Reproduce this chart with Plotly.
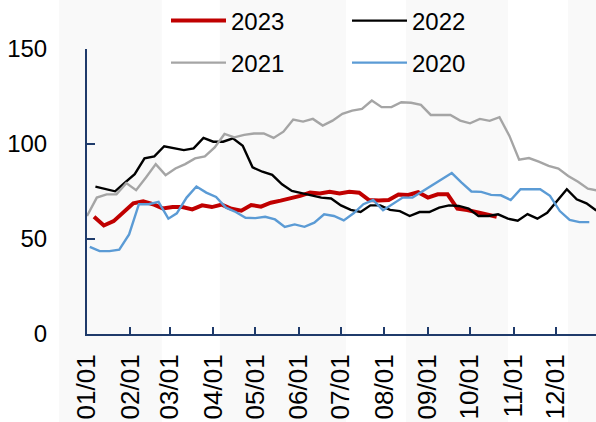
import pandas as pd
import plotly.graph_objects as go

# ---- data (weekly) ----
start_2023 = "2023-01-06"
vals_2023 = [61.7, 57.1, 59.4, 63.8, 68.8, 69.8, 68.3, 66.1, 66.8, 66.8, 65.6, 67.7, 66.8, 68.1,
             65.9, 64.9, 67.9, 67.0, 69.1, 70.2, 71.3, 72.7, 74.4, 73.9, 74.8, 73.9, 74.8, 74.4,
             70.5, 70.2, 70.5, 73.4, 73.2, 74.6, 71.8, 73.5, 73.5, 66.0, 65.3, 64.2, 63.1, 61.7]

start_2022 = "2022-01-07"
vals_2022 = [77.6, 76.5, 75.1, 79.7, 84.1, 92.4, 93.5, 98.8, 97.7, 96.8, 97.7, 103.2, 101.2, 101.2,
             103.0, 99.1, 87.7, 85.4, 83.8, 78.8, 75.3, 74.1, 73.0, 71.8, 71.3, 67.7, 65.3, 64.2,
             67.7, 67.7, 65.3, 64.7, 62.1, 64.2, 64.2, 66.5, 67.7, 67.4, 66.0, 62.1, 62.1, 63.0,
             60.7, 59.6, 63.1, 60.7, 63.8, 70.0, 76.2, 70.9, 68.8, 65.0]

start_2021 = "2021-01-01"
vals_2021 = [62.1, 71.8, 73.5, 73.5, 79.4, 75.7, 82.4, 89.4, 83.6, 87.1, 89.4, 92.4, 93.5, 98.2,
             105.3, 103.5, 104.8, 105.5, 105.6, 103.2, 106.5, 112.9, 111.8, 113.2, 109.7, 112.3,
             115.9, 117.6, 118.5, 122.9, 119.4, 119.4, 122.0, 121.7, 120.6, 115.3, 115.3, 115.3,
             112.3, 110.9, 113.2, 112.2, 114.1, 104.4, 91.7, 92.6, 90.7, 88.5, 87.1, 83.2, 80.1,
             76.5, 75.5]

start_2020 = "2020-01-03"
vals_2020 = [45.9, 43.6, 43.6, 44.4, 52.4, 68.3, 68.3, 69.5, 60.7, 63.5, 71.8, 77.6, 74.4, 72.1,
             66.5, 64.2, 61.2, 61.0, 61.7, 60.3, 56.4, 57.7, 56.4, 58.6, 63.0, 62.1, 59.8, 63.5,
             68.3, 70.5, 65.1, 68.3, 71.8, 71.8, 75.0, 78.3, 81.5, 84.7, 79.7, 75.0, 74.8, 73.2,
             73.0, 70.5, 76.2, 76.2, 76.2, 72.7, 64.7, 60.0, 58.9, 58.9]

series_names = ["2023", "2022", "2021", "2020"]
series_starts = [start_2023, start_2022, start_2021, start_2020]
series_vals = [vals_2023, vals_2022, vals_2021, vals_2020]
series_colors = ["#C00000", "#000000", "#A5A5A5", "#5B9BD5"]
series_widths = [4, 2.4, 2.4, 2.4]
series_legend = ["legend", "legend", "legend2", "legend2"]

DISPLAY_YEAR = 2023
X_RANGE = ["2023-01-01", "2023-12-29 19:00"]
Y_RANGE = [0, 150]
Y_TICKS = [0, 50, 100, 150]

AXIS_COLOR = "#1F3B6B"
FONT = "Liberation Sans, Arial, sans-serif"

fig = go.Figure()
for name, start, vals, color, w, lg in zip(series_names, series_starts, series_vals,
                                          series_colors, series_widths, series_legend):
    d = pd.date_range(start=start, periods=len(vals), freq="7D")
    x = pd.to_datetime(d.strftime(f"{DISPLAY_YEAR}-%m-%d"))
    fig.add_trace(go.Scatter(x=x, y=vals, mode="lines", name=name,
                             line=dict(color=color, width=w), legend=lg))

# faint watermark bands in the background
bands = [(-0.055, 0.147), (0.261, 0.509), (0.627, 0.827), (0.945, 1.2)]
for x0, x1 in bands:
    fig.add_shape(type="rect", xref="paper", yref="paper", x0=x0, x1=x1, y0=-1, y1=2,
                  fillcolor="#F9F9F9", line=dict(width=0), layer="below")

legend_common = dict(orientation="h", xref="container", yref="container",
                     xanchor="left", yanchor="middle", entrywidth=111, entrywidthmode="pixels",
                     font=dict(family=FONT, size=24, color="#000000"),
                     bgcolor="rgba(0,0,0,0)", itemwidth=55)

fig.update_layout(
    width=596, height=422,
    margin=dict(l=87, r=0, t=49, b=88, autoexpand=False),
    paper_bgcolor="#FFFFFF", plot_bgcolor="rgba(0,0,0,0)",
    font=dict(family=FONT, size=24, color="#000000"),
    legend=dict(x=166 / 596, y=1 - 21 / 422, **legend_common),
    legend2=dict(x=166 / 596, y=1 - 63 / 422, **legend_common),
    xaxis=dict(type="date", range=X_RANGE, dtick="M1", tick0="2023-01-01", tickformat="%m/%d",
               tickangle=-90, ticks="inside", ticklen=7, tickwidth=2, tickcolor=AXIS_COLOR,
               showline=True, linecolor=AXIS_COLOR, linewidth=2, showgrid=False, zeroline=False,
               automargin=False, ticklabelstandoff=8,
               tickfont=dict(family=FONT, size=26, color="#000000")),
    yaxis=dict(range=Y_RANGE, tickvals=Y_TICKS, ticks="inside", ticklen=8, tickwidth=2,
               tickcolor=AXIS_COLOR, showline=True, linecolor=AXIS_COLOR, linewidth=2,
               showgrid=False, zeroline=False, automargin=False, ticklabelstandoff=33,
               tickfont=dict(family=FONT, size=24, color="#000000")),
)

fig.write_html("out.html", config={"displayModeBar": False},
               post_script="document.body.style.margin='0';")
